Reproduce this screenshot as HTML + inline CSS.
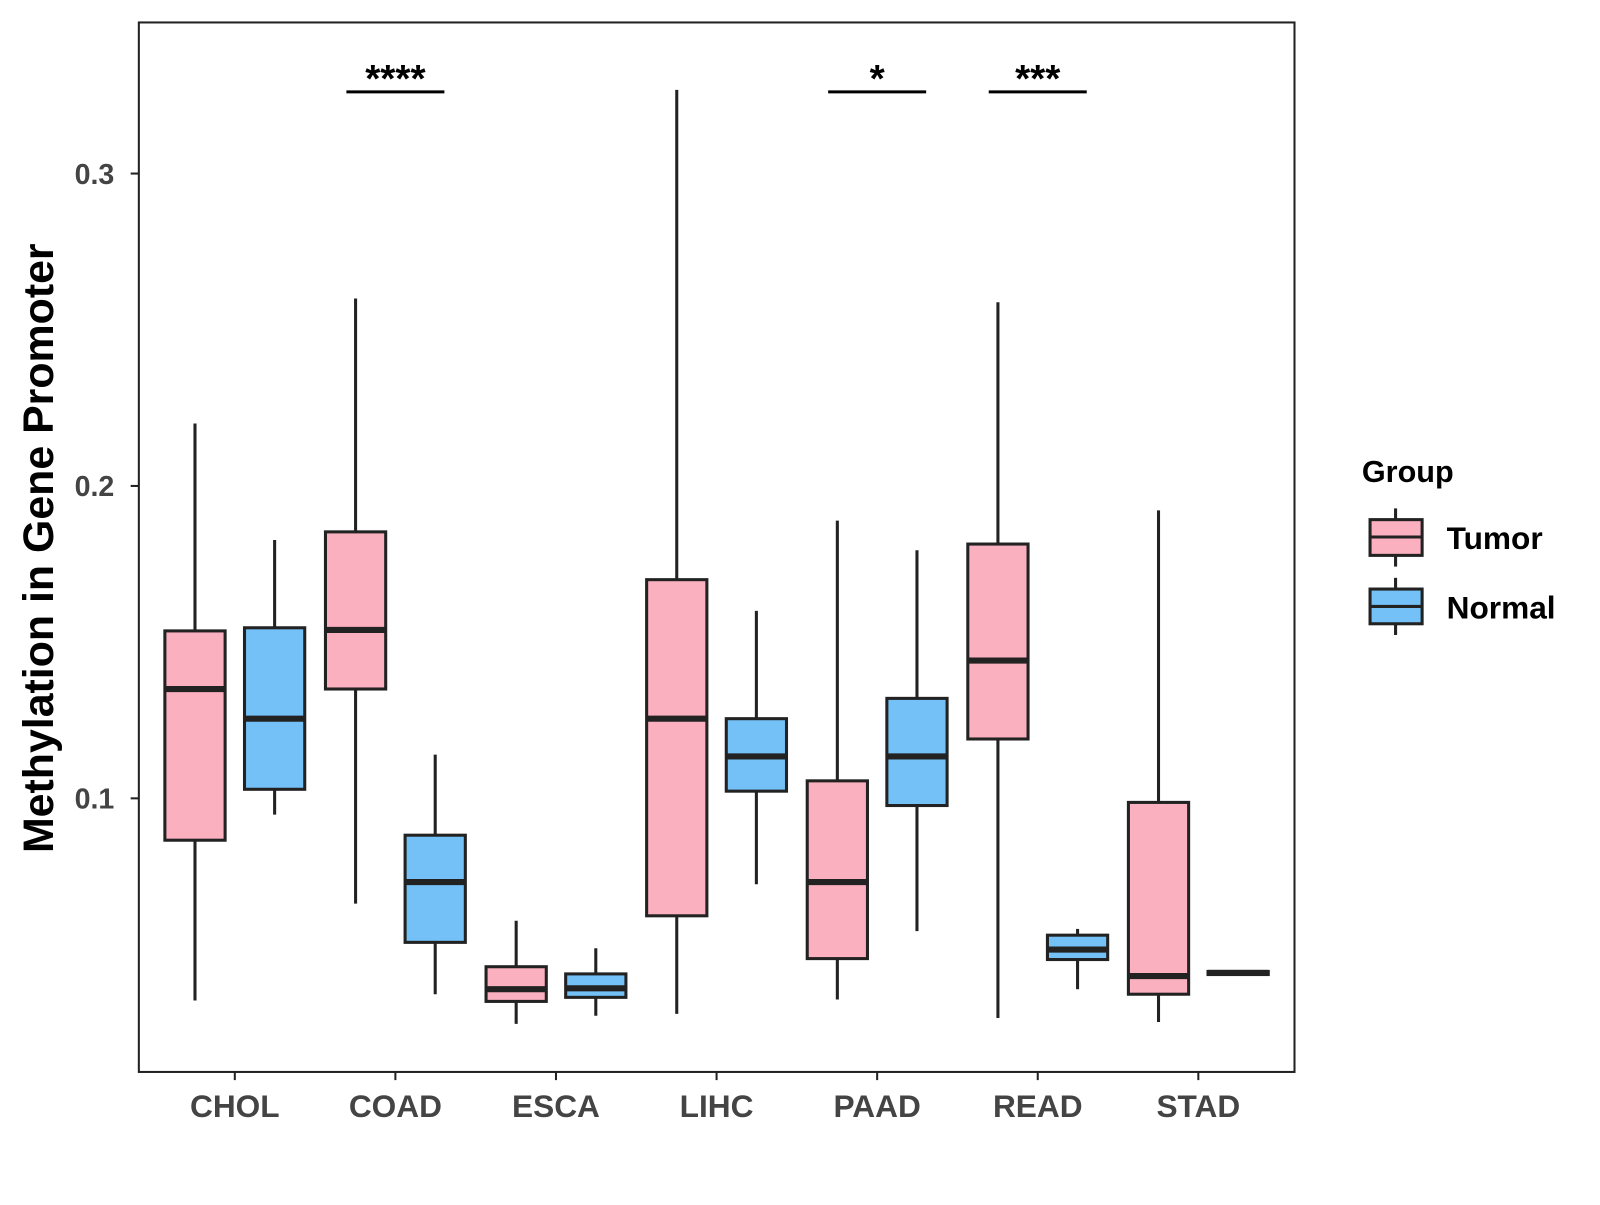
<!DOCTYPE html>
<html><head><meta charset="utf-8"><style>
body{margin:0;background:#fff;font-family:"Liberation Sans",Arial,sans-serif}
svg text{font-family:"Liberation Sans",Arial,sans-serif;font-weight:bold}
</style></head><body>
<svg id="chart" width="1600" height="1200" xmlns="http://www.w3.org/2000/svg">
<rect x="0" y="0" width="1600" height="1200" fill="#fff"/>
<g transform="scale(1.0209)">
<g id="marks"></g>
<rect x="136" y="22" width="1132" height="1028" fill="none" stroke="#222" stroke-width="2"/>
<g id="axes"></g>
<text transform="translate(52,537) rotate(-90)" text-anchor="middle" font-size="42" fill="#000">Methylation in Gene Promoter</text>
<g>
<text x="1334" y="472" font-size="30" fill="#000">Group</text>
<g>
<line x1="1367" y1="498" x2="1367" y2="555" stroke="#222" stroke-width="3"/>
<rect x="1342" y="509" width="51" height="35" fill="#fbb0c0" stroke="#222" stroke-width="3"/>
<line x1="1342" y1="526" x2="1393" y2="526" stroke="#222" stroke-width="3"/>
<text x="1417" y="538" font-size="31" fill="#000">Tumor</text></g>
<g>
<line x1="1367" y1="566" x2="1367" y2="622" stroke="#222" stroke-width="3"/>
<rect x="1342" y="577" width="51" height="34" fill="#74c1f7" stroke="#222" stroke-width="3"/>
<line x1="1342" y1="594" x2="1393" y2="594" stroke="#222" stroke-width="3"/>
<text x="1417" y="606" font-size="31" fill="#000">Normal</text></g>
</g>
</g>
</svg>
<script>
const categories=["CHOL","COAD","ESCA","LIHC","PAAD","READ","STAD"];
// [min,q1,median,q3,max]
const tumorStats=[[0.0353,0.0866,0.135,0.1536,0.220],[0.0663,0.135,0.1539,0.1853,0.260],[0.0278,0.035,0.0389,0.0461,0.0608],[0.031,0.0624,0.1255,0.170,0.3268],[0.0356,0.0487,0.0732,0.1056,0.1889],[0.0297,0.119,0.1441,0.1814,0.2588],[0.0284,0.0373,0.0431,0.0987,0.1922]];
const normalStats=[[0.0948,0.1029,0.1255,0.1546,0.1827],[0.0373,0.0539,0.0732,0.0882,0.114],[0.0304,0.0363,0.0392,0.0438,0.052],[0.0725,0.1023,0.1134,0.1255,0.160],[0.0575,0.0977,0.1134,0.132,0.1794],[0.0389,0.0484,0.0516,0.0562,0.0582],[0.0436,0.0436,0.0441,0.0446,0.0446]];
const yTicks=[0.1,0.2,0.3];
const sigLabels=["","****","","","*","***",""];
const NS="http://www.w3.org/2000/svg";
function y(v){return 782-(v-0.1)*3060;}
function x(i){return 230+i*157.3;}
function mk(t,a,p){const e=document.createElementNS(NS,t);for(const k in a)e.setAttribute(k,a[k]);p.appendChild(e);return e;}
const marks=document.getElementById('marks'),axes=document.getElementById('axes');
function box(s,cx,fill,name){
 const g=mk('g',{},marks);
 
 
 mk('line',{x1:cx,x2:cx,y1:y(s[0]),y2:y(s[4]),stroke:'#222','stroke-width':3},g);
 mk('rect',{x:cx-29.5,width:59,y:y(s[3]),height:Math.max(1,y(s[1])-y(s[3])),fill:fill,stroke:'#222','stroke-width':3},g);
 mk('line',{x1:cx-29.5,x2:cx+29.5,y1:y(s[2]),y2:y(s[2]),stroke:'#222','stroke-width':6},g);
}
categories.forEach((c,i)=>{
 box(tumorStats[i],x(i)-39,'#fbb0c0','box-tumor-'+c.toLowerCase());
 box(normalStats[i],x(i)+39,'#74c1f7','box-normal-'+c.toLowerCase());
 mk('line',{x1:x(i),x2:x(i),y1:1050,y2:1058,stroke:'#222','stroke-width':2},axes);
 const t=mk('text',{x:x(i),y:1094,'text-anchor':'middle','font-size':31,fill:'#444'},axes);
 
 
 t.textContent=c;
 if(sigLabels[i]){
  const l=mk('line',{x1:x(i)-48,x2:x(i)+48,y1:90,y2:90,stroke:'#000','stroke-width':3},marks);
  
  
  const s=mk('text',{x:x(i),y:90,'text-anchor':'middle','font-size':38,fill:'#000'},marks);
  
  
  s.textContent=sigLabels[i];
 }
});
yTicks.forEach(v=>{
 mk('line',{x1:128,x2:136,y1:y(v),y2:y(v),stroke:'#222','stroke-width':2},axes);
 const t=mk('text',{x:112,y:y(v)+10,'text-anchor':'end','font-size':28,fill:'#444'},axes);
 
 
 t.textContent=v.toFixed(1);
});
</script>
</body></html>
